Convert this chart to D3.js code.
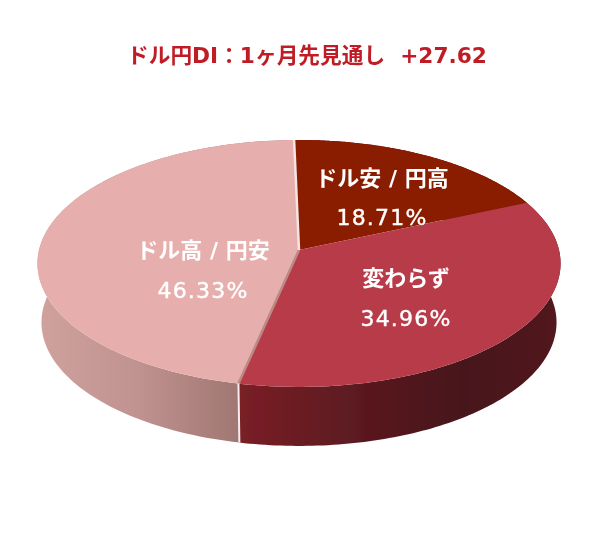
<!DOCTYPE html>
<html>
<head>
<meta charset="utf-8">
<script src="https://cdn.jsdelivr.net/npm/d3@7"></script>
<style>
  html, body { margin: 0; background: #fff; }
  text { font-family: "DejaVu Sans", "Noto Sans CJK JP", sans-serif; text-anchor: middle; }
</style>
</head>
<body>
<svg id="chart" width="600" height="540"></svg>
<script>
// Clockwise from the top of the pie.
const categories = ['ドル安 / 円高', '変わらず', 'ドル高 / 円安'];
const shares = [18.71, 34.96, 46.33];
const titleText = 'ドル円DI：1ヶ月先見通し  +27.62';

const topColours = ['#8a1a06', '#b83a48', '#e6aeac'];
const wallStops = [
  [['0%', '#7a1a10'], ['100%', '#5a1208']],
  [['0%', '#7a2026'], ['35%', '#5c1a20'], ['70%', '#47131a'], ['100%', '#521a20']],
  [['0%', '#cfa29e'], ['50%', '#c09290'], ['100%', '#a07772']]
];
const labelCentres = [[382, 178, 217], [406, 278, 318], [203, 250, 290]];   // x, name y, value y

// The pie plane is drawn through a perspective mapping, front edge nearer.
const PERSPECTIVE = 0.109;
const START_ANGLE = -1.2 * Math.PI / 180;
const topPlane = { cx: 299, cy: 250, rx: 260, ry: 122 };
const basePlane = { cx: 299, cy: 309, rx: 256, ry: 122 };

function project(plane, angle, r) {
  const u = r * Math.sin(angle);
  const v = -r * Math.cos(angle);
  const w = 1 - PERSPECTIVE * v;
  return [plane.cx + plane.rx * u / w, plane.cy + plane.ry * v / w];
}

const arcs = d3.pie().sort(null).startAngle(START_ANGLE).endAngle(START_ANGLE + 2 * Math.PI)(shares);
const line = d3.line();

function rim(plane, d) {
  const steps = d3.range(0, 121).map(i => d.startAngle + (d.endAngle - d.startAngle) * i / 120);
  return steps.map(a => project(plane, a, 1));
}

const svg = d3.select('#chart');
const defs = svg.append('defs');
defs.append('filter').attr('id', 'soft')
  .append('feGaussianBlur').attr('stdDeviation', 0.55);

// Wall gradients span only the visible lower part of each slice's rim.
arcs.forEach((d, i) => {
  const xs = rim(topPlane, d).filter(p => p[1] > topPlane.cy + 10).map(p => p[0]);
  const grad = defs.append('linearGradient').attr('id', 'wall' + i)
    .attr('gradientUnits', 'userSpaceOnUse')
    .attr('x1', d3.min(xs.length ? xs : [0])).attr('x2', d3.max(xs.length ? xs : [1]))
    .attr('y1', 0).attr('y2', 0);
  wallStops[i].forEach(s => grad.append('stop').attr('offset', s[0]).attr('stop-color', s[1]));
});

const pie = svg.append('g').attr('filter', 'url(#soft)');

// Walls first, then the top faces paint over the hidden rear part.
pie.selectAll('path.wall').data(arcs).enter().append('path')
  .attr('class', 'wall')
  .attr('fill', (d, i) => 'url(#wall' + i + ')')
  .attr('d', d => line(rim(topPlane, d).concat(rim(basePlane, d).reverse())) + 'Z');

pie.selectAll('path.face').data(arcs).enter().append('path')
  .attr('class', 'face')
  .attr('fill', (d, i) => topColours[i])
  .attr('d', d => line([[topPlane.cx, topPlane.cy]].concat(rim(topPlane, d))) + 'Z');

// Small gap where the pink slice pulls away from its neighbours.
const pink = arcs[2];
const spoke = (plane, a) => line([[plane.cx, plane.cy], project(plane, a, 1)]);
pie.append('path').attr('d', spoke(topPlane, pink.startAngle))
  .attr('stroke', '#bb8a86').attr('stroke-width', 2.5).attr('fill', 'none');
pie.append('path').attr('d', spoke(topPlane, pink.endAngle))
  .attr('stroke', '#f4e4e2').attr('stroke-width', 2.5).attr('fill', 'none');
const gapTop = project(topPlane, pink.startAngle, 1);
const gapBottom = project(basePlane, pink.startAngle, 1);
pie.append('path').attr('d', line([gapTop, gapBottom]))
  .attr('stroke', '#f6eeee').attr('stroke-width', 2).attr('fill', 'none');

const texts = svg.append('g').attr('filter', 'url(#soft)');

texts.append('text')
  .attr('x', 307).attr('y', 63)
  .attr('fill', '#bf1e26')
  .attr('font-size', 21.7).attr('font-weight', 700)
  .style('white-space', 'pre')
  .text(titleText);

texts.selectAll('text.name').data(categories).enter().append('text')
  .attr('class', 'name')
  .attr('x', (d, i) => labelCentres[i][0])
  .attr('y', (d, i) => labelCentres[i][1] + 8)
  .attr('fill', '#fff').attr('font-size', 22).attr('font-weight', 700)
  .text(d => d);

texts.selectAll('text.value').data(shares).enter().append('text')
  .attr('class', 'value')
  .attr('x', (d, i) => labelCentres[i][0])
  .attr('y', (d, i) => labelCentres[i][2] + 8)
  .attr('fill', '#fff').attr('stroke', '#fff').attr('stroke-width', 0.4)
  .attr('font-size', 22).attr('letter-spacing', 1.2)
  .text(d => d3.format('.2f')(d) + '%');
</script>
</body>
</html>
